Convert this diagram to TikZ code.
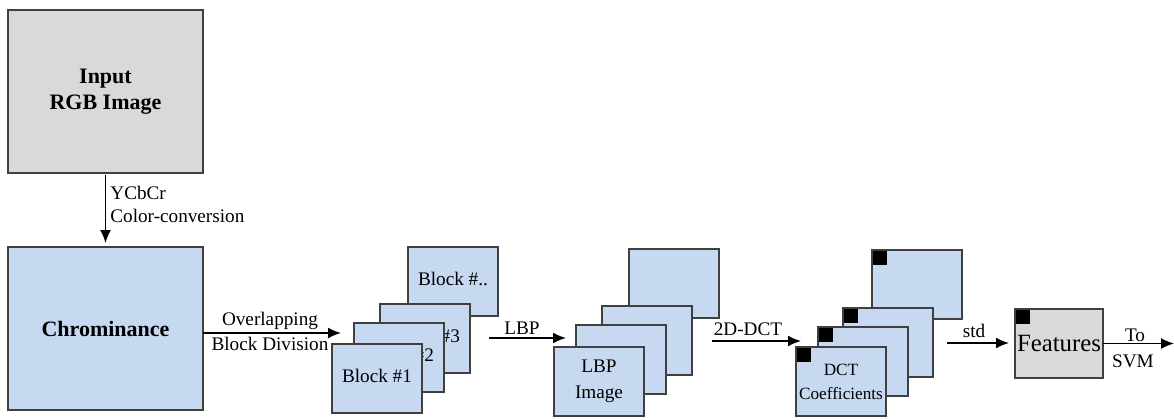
\documentclass[tikz,border=0pt]{standalone}
\usepackage{fontspec}
\setmainfont{Liberation Serif}
\usetikzlibrary{positioning,arrows.meta}

\definecolor{chromblue}{HTML}{C6D9F1}
\definecolor{imggray}{HTML}{D9D9D9}
\definecolor{edgegray}{HTML}{404040}

\begin{document}
\begin{tikzpicture}[
  x=0.5pt, y=-0.5pt,
  every node/.style={font=\fontsize{9.6}{13}\selectfont},
  bigbox/.style={rectangle, draw=edgegray, line width=0.75pt, minimum width=97.5pt, minimum height=81.5pt, align=center, outer sep=0pt, font=\fontsize{11}{13}\selectfont\bfseries},
  tile/.style={rectangle, draw=edgegray, fill=chromblue, line width=0.75pt, minimum width=45pt, minimum height=34.5pt, align=center, outer sep=0pt, inner sep=1pt},
  corner/.style={path picture={\fill[black] (path picture bounding box.north west) rectangle ++(7.5pt,-7.5pt);}},
  arr/.style={draw, -{Latex[length=6.5pt,width=5.5pt]}, line width=0.85pt},
  lbl/.style={inner sep=1pt}
]
\useasboundingbox (0,0) rectangle (1174,419);

% input and colour conversion
\node[bigbox, fill=imggray] (input) at (105.5,91.5) {Input\\RGB Image};
\node[bigbox, fill=chromblue] (chroma) at (105.5,328.5) {Chrominance};
\draw[arr] ([yshift=-1pt]input.south) -- ([yshift=2pt]chroma.north);
\node[lbl, anchor=west] (ycc) at (108,193) {YCbCr};
\node[lbl, anchor=west] (conv) at (108,216) {Color-conversion};

% block division
\coordinate (ovEnd) at (341,333);
\draw[arr] (chroma.east |- ovEnd) -- (ovEnd);
\node[lbl] (ovTop) at (270,321) {Overlapping};
\node[lbl] (ovBot) at (270,344) {Block Division};

\foreach \name/\cx/\cy/\txt in {blk4/453/281.5/{Block \#..}, blk3/425/338.5/{Block \#3},
    blk2/399/357.5/{Block \#2}, blk1/377/378.5/{Block \#1}}
  \node[tile, text depth=3pt] (\name) at (\cx,\cy) {\txt};

% LBP
\coordinate (lbpA) at (489,338);
\coordinate (lbpB) at (566,338);
\draw[arr] (lbpA) -- (lbpB);
\node[lbl] (lbpLbl) at (522,328) {LBP};

\foreach \name/\cx/\cy/\txt in {lbp4/674/283.5/{}, lbp3/647/340.5/{},
    lbp2/621/359.5/{}, lbp1/599/381.5/{LBP\\Image}}
  \node[tile] (\name) at (\cx,\cy) {\txt};

% 2D-DCT
\coordinate (dctA) at (712,341);
\coordinate (dctB) at (801,341);
\draw[arr] (dctA) -- (dctB);
\node[lbl] (dctLbl) at (748,329) {2D-DCT};

\foreach \name/\cx/\cy/\txt in {dct4/917/284.5/{}, dct3/888/342.5/{},
    dct2/863/361.5/{}, dct1/841/381.5/{DCT\\Coefficients}}
  \node[tile, corner, font=\fontsize{8.6}{12}\selectfont] (\name) at (\cx,\cy) {\txt};

% features
\coordinate (stdA) at (947,343);
\coordinate (stdB) at (1009,343);
\draw[arr] (stdA) -- (stdB);
\node[lbl] (stdLbl) at (974,331) {std};

\node[tile, corner, fill=imggray, minimum width=44pt, font=\fontsize{12.4}{14}\selectfont] (feat) at (1059,343.5) {Features};
\coordinate (svmEnd) at (1174,343.5);
\draw[arr] (feat.east) -- (svmEnd);
\node[lbl] (toLbl) at (1135,335) {To};
\node[lbl] (svmLbl) at (1133,361) {SVM};
\end{tikzpicture}
\end{document}
